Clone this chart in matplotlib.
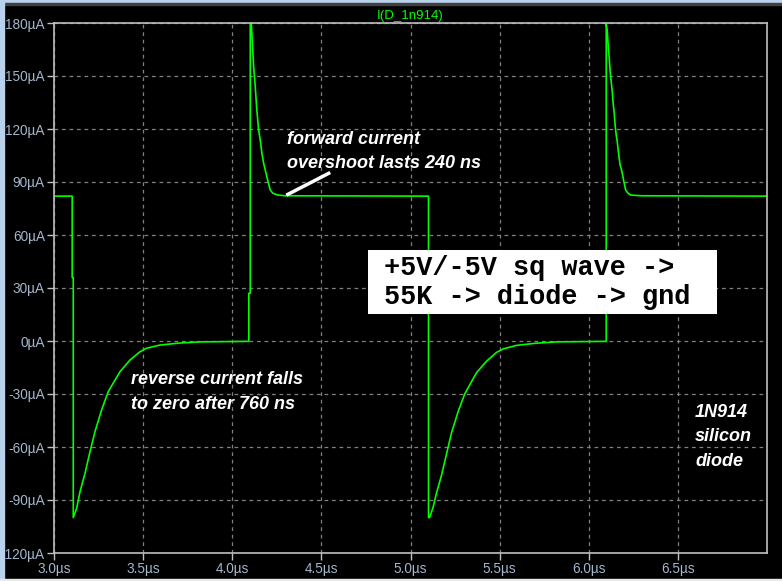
import numpy as np
import matplotlib.pyplot as plt
from matplotlib.patches import Rectangle

# diode current I(D_1n914), time in us, current in uA
t_us = [3.000, 3.102, 3.102, 3.108, 3.108, 3.127, 3.146, 3.174, 3.202, 3.230,
        3.267, 3.304, 3.370, 3.426, 3.482, 3.519, 3.594, 3.700, 3.820, 4.093,
        4.093, 4.101, 4.101, 4.107, 4.113, 4.120, 4.129, 4.138, 4.148, 4.157,
        4.166, 4.176, 4.194, 4.213, 4.228, 4.256, 4.300, 5.101,
        5.101, 5.108, 5.127, 5.146, 5.174, 5.202, 5.230, 5.267, 5.304, 5.370,
        5.426, 5.482, 5.519, 5.594, 5.700, 5.820, 6.098,
        6.098, 6.104, 6.109, 6.115, 6.120, 6.126, 6.132, 6.137, 6.143, 6.148,
        6.154, 6.160, 6.165, 6.171, 6.176, 6.184, 6.190, 6.197, 6.207, 6.218,
        6.235, 6.300, 7.000]
i_ua = [82.0, 82.0, 36.0, 36.0, -100.0, -94.7, -85.3, -74.9, -62.6, -51.3,
        -39.0, -28.7, -17.4, -10.8, -6.1, -4.1, -2.3, -1.2, -0.5, -0.2,
        27.0, 27.0, 180.0, 179.8, 168.6, 155.2, 143.9, 130.7, 119.4, 113.8,
        106.4, 100.7, 93.0, 85.5, 83.6, 82.6, 82.2, 82.0,
        -100.0, -99.8, -94.0, -86.0, -76.0, -64.0, -52.0, -40.0, -30.0, -18.0,
        -11.5, -6.5, -4.5, -2.5, -1.3, -0.5, -0.2,
        180.0, 175.0, 167.5, 160.0, 152.4, 146.7, 141.1, 134.5, 128.9, 122.2,
        116.6, 112.8, 108.1, 103.4, 99.6, 96.8, 93.9, 90.2, 85.5, 83.9,
        82.6, 82.2, 82.0]

x_ticks = [3.0, 3.5, 4.0, 4.5, 5.0, 5.5, 6.0, 6.5]
x_labels = ["3.0µs", "3.5µs", "4.0µs", "4.5µs", "5.0µs", "5.5µs", "6.0µs", "6.5µs"]
y_ticks = [-120, -90, -60, -30, 0, 30, 60, 90, 120, 150, 180]
y_labels = ["-120µA", "-90µA", "-60µA", "-30µA", "0µA", "30µA", "60µA",
            "90µA", "120µA", "150µA", "180µA"]

lbl_col = '#a3b6cc'
sans = ['Liberation Sans', 'DejaVu Sans']

fig = plt.figure(figsize=(7.82, 5.81), dpi=100, facecolor='black')
# window frame bits
fig.patches.append(Rectangle((0, 0.994), 1, 0.006, transform=fig.transFigure,
                             color='#b9d1ea', zorder=0))
fig.patches.append(Rectangle((0, 0.991), 1, 0.003, transform=fig.transFigure,
                             color='#404040', zorder=0))
fig.patches.append(Rectangle((0, 0), 0.005, 1, transform=fig.transFigure,
                             color='#b9d1ea', zorder=0))
fig.patches.append(Rectangle((0, 0), 1, 0.004, transform=fig.transFigure,
                             color='#e8e8e8', zorder=0))

ax = fig.add_axes([54/782, 28/581, 713/782, 530/581])
ax.set_facecolor('black')
ax.plot(t_us, i_ua, color='#00ff00', lw=1.2, clip_on=True)

ax.set_xlim(3.0, 7.0)
ax.set_ylim(-120, 180)
ax.set_xticks(x_ticks)
ax.set_xticklabels(x_labels)
ax.set_yticks(y_ticks)
ax.set_yticklabels(y_labels)
ax.tick_params(colors='#c0c0c0', length=5, width=1, labelsize=9.8,
               labelcolor=lbl_col, pad=1.5)
for lab in ax.get_xticklabels() + ax.get_yticklabels():
    lab.set_family(sans)
for s in ax.spines.values():
    s.set_color('#c0c0c0')
    s.set_linewidth(1.2)
ax.grid(True, color='#808080', linestyle=(0, (3, 3)), linewidth=0.9)

ax.set_title("I(D_1n914)", color='#00ff00', fontsize=9.5, family=sans, pad=3)

txt = dict(color='white', fontsize=13, style='italic', weight='bold',
           family=sans, va='center', ha='left', linespacing=1.55)
ax.text(4.306, 107.5, "forward current\novershoot lasts 240 ns", **txt)
ax.plot([4.312, 4.541], [83.0, 94.9], color='white', lw=2.5)
ax.text(3.431, -28.9, "reverse current falls\nto zero after 760 ns", **txt)
ax.text(6.597, -54.3, "1N914\nsilicon\ndiode", **txt)

# white note box
ax.add_patch(Rectangle((4.764, 15.3), 6.718 - 4.764, 51.5 - 15.3,
                       fc='white', ec='none', zorder=4))
ax.text(4.853, 33.0, "+5V/-5V sq wave ->\n55K -> diode -> gnd",
        color='black', fontsize=19.4, weight='bold', family=['Liberation Mono'],
        va='center', ha='left', linespacing=1.17, zorder=5)

fig.savefig("out.png", dpi=100, facecolor=fig.get_facecolor())
